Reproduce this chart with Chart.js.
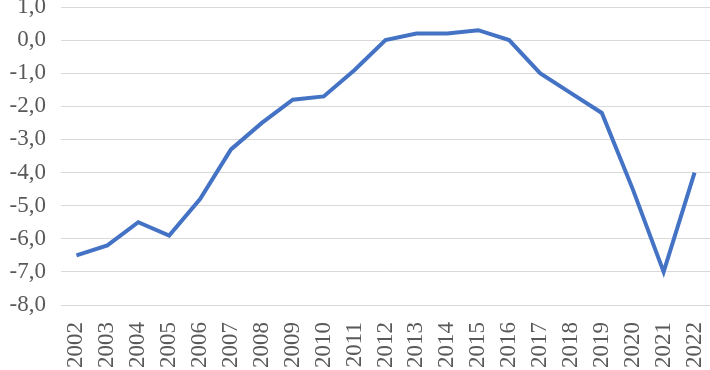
<!DOCTYPE html>
<html>
<head>
<meta charset="utf-8">
<script src="https://cdn.jsdelivr.net/npm/chart.js@4"></script>
<style>
  html, body { margin: 0; padding: 0; background: #fff; }
  .chart-box { width: 710px; height: 370px; position: relative; }
</style>
</head>
<body>
<div class="chart-box"><canvas id="balanceChart"></canvas></div>
<script>
const years = ["2002", "2003", "2004", "2005", "2006", "2007", "2008", "2009", "2010", "2011",
  "2012", "2013", "2014", "2015", "2016", "2017", "2018", "2019", "2020", "2021", "2022"];
const values = [-6.5, -6.2, -5.5, -5.9, -4.8, -3.3, -2.5, -1.8, -1.7, -0.9,
  0.0, 0.2, 0.2, 0.3, 0.0, -1.0, -1.6, -2.2, -4.5, -7.0, -4.0];
const yMin = -8;
const yMax = 1;

const textColor = "#595959";
const font = { family: "'Liberation Serif', 'Times New Roman', serif", size: 23 };

new Chart(document.getElementById("balanceChart"), {
  type: "line",
  data: {
    labels: years,
    datasets: [
      {
        data: values,
        borderColor: "#4472C4",
        borderWidth: 4,
        pointRadius: 0,
        tension: 0,
      },
    ],
  },
  options: {
    responsive: true,
    maintainAspectRatio: false,
    animation: false,
    layout: { padding: { top: 7, right: 0, bottom: 0, left: 0 } },
    plugins: {
      legend: { display: false },
      tooltip: { enabled: false },
    },
    scales: {
      x: {
        offset: true,
        grid: { display: false },
        border: { display: false },
        ticks: {
          color: textColor,
          font: font,
          maxRotation: 90,
          minRotation: 90,
          autoSkip: false,
          padding: 9,
        },
        afterFit: (scale) => {
          scale.height = 65;
          scale.paddingLeft = 0;
          scale.paddingRight = 0;
        },
      },
      y: {
        min: yMin,
        max: yMax,
        grid: { color: "#d9d9d9", lineWidth: 1, drawTicks: false },
        border: { display: false },
        ticks: {
          stepSize: 1,
          autoSkip: false,
          color: textColor,
          font: font,
          padding: 15,
          callback: (v) => v.toFixed(1).replace(".", ","),
        },
        afterFit: (scale) => {
          scale.width = 61;
          scale.paddingTop = 0;
          scale.paddingBottom = 0;
        },
      },
    },
  },
});
</script>
</body>
</html>
